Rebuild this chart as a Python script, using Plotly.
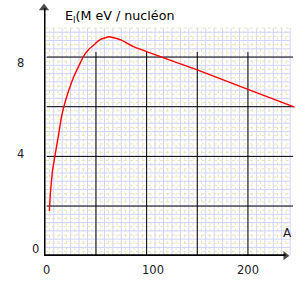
import plotly.graph_objects as go

# ---- data ----
mass_number = [4, 5, 7, 9, 13, 16, 20, 28, 38, 44, 54, 63, 74, 87, 100, 150, 200, 246]
binding_energy = [1.8, 2.5, 3.4, 3.9, 4.85, 5.6, 6.25, 7.2, 8.05, 8.35, 8.7, 8.82, 8.7, 8.42, 8.22, 7.48, 6.7, 5.98]

x_tick_values = [0, 100, 200]
x_tick_labels = ["0", "100", "200"]
y_tick_values = [8, 4, 0]
y_tick_labels = ["8", "4", "0"]
major_x = [50, 100, 150, 200]
major_y = [2, 4, 6, 8]

X_RANGE = [-1.28, 249.4]
Y_RANGE = [-0.012, 10.217]
FONT = "DejaVu Sans"


def px(a):
    return (a - X_RANGE[0]) / (X_RANGE[1] - X_RANGE[0])


def py(e):
    return (e - Y_RANGE[0]) / (Y_RANGE[1] - Y_RANGE[0])


fig = go.Figure()
fig.add_trace(go.Scatter(x=mass_number, y=binding_energy, mode="lines",
                         line=dict(color="#ff0000", width=1.4, shape="spline", smoothing=0.3),
                         hoverinfo="skip"))

shapes = []
step_x = 50 / 12
step_y = 2 / 12
grid_right = 29 * 50 / 6
grid_top = 55 / 6
for k in range(1, 59):
    xv = k * step_x
    if xv > grid_right + 1e-6:
        break
    lav = (k % 2 == 0)
    shapes.append(dict(type="line", xref="x", yref="y", x0=xv, x1=xv, y0=0, y1=grid_top,
                       line=dict(color="#d2d2fa" if lav else "#e4e4b8", width=1,
                                 dash="solid" if lav else "dot"), layer="below"))
for k in range(1, 56):
    yv = k * step_y
    if yv > grid_top + 1e-6:
        break
    lav = (k % 2 == 0)
    shapes.append(dict(type="line", xref="x", yref="y", x0=0.5, x1=grid_right, y0=yv, y1=yv,
                       line=dict(color="#d2d2fa" if lav else "#e4e4b8", width=1,
                                 dash="solid" if lav else "dot"), layer="below"))
for xv in major_x:
    shapes.append(dict(type="line", xref="x", yref="y", x0=xv, x1=xv, y0=0, y1=8.2,
                       line=dict(color="black", width=1), layer="below"))
for yv in major_y:
    shapes.append(dict(type="line", xref="x", yref="y", x0=1.5, x1=244.5, y0=yv, y1=yv,
                       line=dict(color="black", width=1), layer="below"))

# axes (thick lines) with arrowheads
Y_TIP = 9.98
X_TIP = 237.0
shapes.append(dict(type="line", xref="x", yref="y", x0=X_RANGE[0], x1=X_RANGE[0],
                   y0=-0.08, y1=Y_TIP, line=dict(color="black", width=3), layer="above"))
shapes.append(dict(type="line", xref="x", yref="y", x0=X_RANGE[0], x1=X_TIP,
                   y0=0, y1=0, line=dict(color="black", width=3), layer="above"))
fig.add_trace(go.Scatter(x=[X_RANGE[0], X_TIP], y=[Y_TIP, 0], mode="markers",
                         marker=dict(symbol=["triangle-up", "triangle-right"], size=[9, 8],
                                     color="black", line=dict(width=0)),
                         cliponaxis=False, hoverinfo="skip"))

annotations = []
x_label_shift = [1, 6, 0]
for v, t, s in zip(x_tick_values, x_tick_labels, x_label_shift):
    annotations.append(dict(x=px(v), y=py(-0.57), xref="paper", yref="paper", text=t,
                            xanchor="center", yanchor="middle", showarrow=False, xshift=s,
                            font=dict(family=FONT, size=11.5, color="#1a1a2a")))
y_label_x = [-24, -24, -10]
y_label_shift = [-6, 2, 7]
for v, t, xx, s in zip(y_tick_values, y_tick_labels, y_label_x, y_label_shift):
    annotations.append(dict(x=px(xx), y=py(v), xref="paper", yref="paper", text=t,
                            xanchor="center", yanchor="middle", showarrow=False, yshift=s,
                            font=dict(family=FONT, size=11.5, color="#1a1a2a")))
annotations.append(dict(x=px(17.0), y=py(9.65), xref="paper", yref="paper", xanchor="left",
                        yanchor="middle", text="E<sub>l</sub>(M eV / nucléon", showarrow=False,
                        font=dict(family=FONT, size=12.7, color="black")))
annotations.append(dict(x=px(238.8), y=py(0.91), xref="paper", yref="paper", text="A",
                        xanchor="center", yanchor="middle", showarrow=False,
                        font=dict(family=FONT, size=12, color="#1a1a2a")))

fig.update_layout(
    width=308, height=284, autosize=False,
    margin=dict(l=44, r=10, t=2, b=28),
    paper_bgcolor="white", plot_bgcolor="white",
    showlegend=False,
    xaxis=dict(range=X_RANGE, showgrid=False, zeroline=False, showticklabels=False,
               showline=False, ticks=""),
    yaxis=dict(range=Y_RANGE, showgrid=False, zeroline=False, showticklabels=False,
               showline=False, ticks=""),
    shapes=shapes, annotations=annotations,
)
fig.write_html("out.html")
